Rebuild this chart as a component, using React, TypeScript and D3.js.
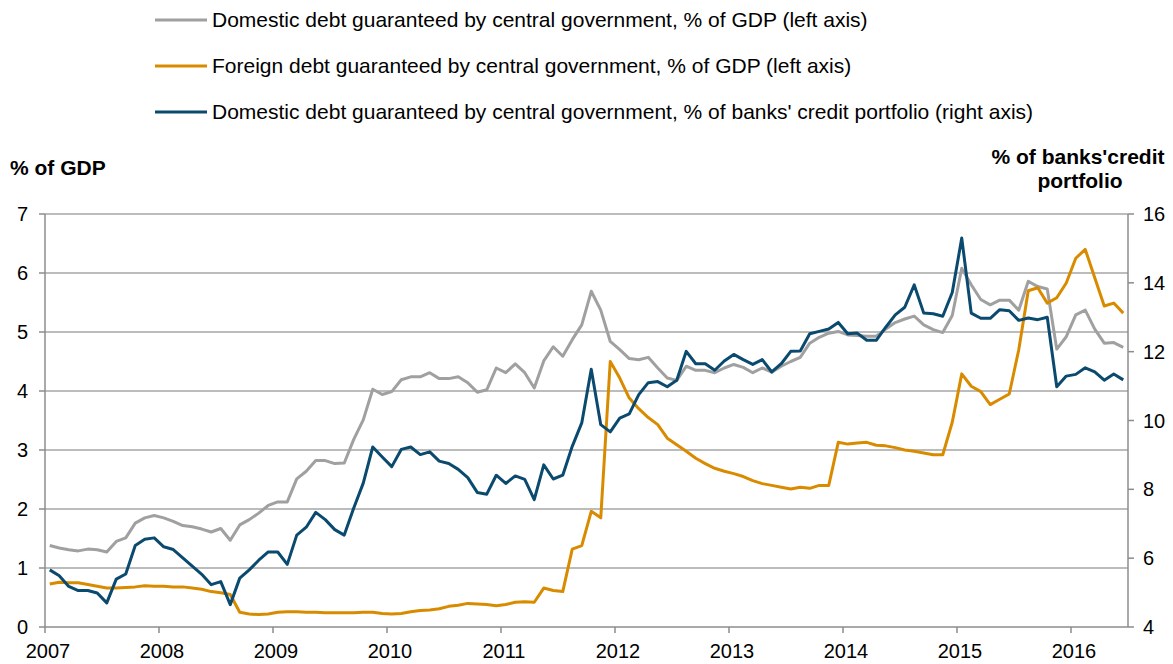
import { useEffect } from 'react'
import * as d3 from 'd3'

// monthly values, Jan 2007 - Jun 2016
const years = ['2007', '2008', '2009', '2010', '2011', '2012', '2013', '2014', '2015', '2016']
const leftTicks = [0, 1, 2, 3, 4, 5, 6, 7]
const rightTicks = [4, 6, 8, 10, 12, 14, 16]

const domesticGdp = [
  1.38, 1.34, 1.31, 1.29, 1.32, 1.31, 1.27, 1.45, 1.51, 1.76, 1.85, 1.89,
  1.85, 1.79, 1.72, 1.70, 1.66, 1.61, 1.67, 1.47, 1.73, 1.82, 1.93, 2.06,
  2.12, 2.12, 2.51, 2.64, 2.82, 2.82, 2.77, 2.78, 3.18, 3.51, 4.03, 3.94,
  3.99, 4.19, 4.24, 4.24, 4.31, 4.21, 4.21, 4.24, 4.14, 3.98, 4.02, 4.39,
  4.31, 4.46, 4.31, 4.05, 4.51, 4.75, 4.59, 4.87, 5.12, 5.69, 5.37, 4.84,
  4.70, 4.55, 4.53, 4.57, 4.39, 4.22, 4.18, 4.42, 4.35, 4.35, 4.31, 4.39,
  4.45, 4.40, 4.31, 4.39, 4.32, 4.42, 4.50, 4.57, 4.81, 4.91, 4.98, 5.01,
  4.95, 4.94, 4.93, 4.93, 5.05, 5.16, 5.22, 5.27, 5.12, 5.04, 4.99, 5.28,
  6.08, 5.80, 5.55, 5.46, 5.54, 5.54, 5.37, 5.86, 5.77, 5.73, 4.71, 4.92,
  5.29, 5.37, 5.05, 4.81, 4.82, 4.74
]

const foreignGdp = [
  0.73, 0.76, 0.75, 0.75, 0.72, 0.69, 0.66, 0.66, 0.67, 0.68, 0.70, 0.69,
  0.69, 0.68, 0.68, 0.66, 0.64, 0.60, 0.58, 0.55, 0.25, 0.22, 0.21, 0.22,
  0.25, 0.26, 0.26, 0.25, 0.25, 0.24, 0.24, 0.24, 0.24, 0.25, 0.25, 0.23,
  0.22, 0.23, 0.26, 0.28, 0.29, 0.31, 0.35, 0.37, 0.40, 0.39, 0.38, 0.36,
  0.38, 0.42, 0.43, 0.42, 0.66, 0.62, 0.60, 1.32, 1.38, 1.96, 1.85, 4.50,
  4.22, 3.88, 3.70, 3.55, 3.43, 3.20, 3.09, 2.98, 2.86, 2.77, 2.69, 2.64,
  2.60, 2.55, 2.48, 2.43, 2.40, 2.37, 2.34, 2.37, 2.35, 2.40, 2.40, 3.13,
  3.10, 3.12, 3.13, 3.08, 3.07, 3.04, 3.00, 2.98, 2.95, 2.92, 2.92, 3.47,
  4.29, 4.08, 3.99, 3.77, 3.86, 3.95, 4.70, 5.70, 5.75, 5.49, 5.58, 5.83,
  6.25, 6.40, 5.92, 5.44, 5.49, 5.32
]

const bankShare = [
  5.66, 5.49, 5.18, 5.06, 5.06, 4.99, 4.70, 5.39, 5.54, 6.37, 6.55, 6.59,
  6.33, 6.25, 6.01, 5.77, 5.53, 5.23, 5.32, 4.65, 5.42, 5.66, 5.94, 6.18,
  6.18, 5.82, 6.67, 6.90, 7.33, 7.12, 6.83, 6.67, 7.46, 8.18, 9.23, 8.94,
  8.66, 9.16, 9.23, 9.01, 9.09, 8.82, 8.75, 8.58, 8.34, 7.91, 7.86, 8.41,
  8.17, 8.39, 8.29, 7.70, 8.71, 8.30, 8.41, 9.25, 9.93, 11.49, 9.88, 9.67,
  10.07, 10.19, 10.75, 11.10, 11.13, 10.98, 11.17, 12.01, 11.65, 11.65, 11.46, 11.73,
  11.92, 11.77, 11.63, 11.77, 11.41, 11.65, 12.01, 12.02, 12.52, 12.59, 12.66, 12.85,
  12.52, 12.54, 12.33, 12.33, 12.71, 13.07, 13.29, 13.94, 13.12, 13.10, 13.03, 13.72,
  15.30, 13.12, 12.97, 12.97, 13.22, 13.19, 12.91, 12.98, 12.93, 13.00, 10.98, 11.29,
  11.34, 11.53, 11.41, 11.17, 11.35, 11.18
]

const legendItems = [
  { label: 'Domestic debt guaranteed by central government, % of GDP (left axis)', color: '#a0a0a0' },
  { label: 'Foreign debt guaranteed by central government, % of GDP (left axis)', color: '#d98b00' },
  { label: "Domestic debt guaranteed by central government, % of banks' credit portfolio (right axis)", color: '#0b4a6f' }
]

const font = '"Liberation Sans", Arial, sans-serif'
const axisColor = '#8c8c8c'

export default function App() {
  useEffect(() => {
    document.body.style.margin = '0'
  }, [])

  const width = 1173
  const height = 664
  const left = 45
  const right = 1128
  const top = 214
  const bottom = 627

  const x = d3.scaleLinear().domain([0, 114]).range([left, right])
  const yL = d3.scaleLinear().domain([0, 7]).range([bottom, top])
  const yR = d3.scaleLinear().domain([4, 16]).range([bottom, top])

  const lineL = d3.line<number>().x((_, i) => x(i + 0.5)).y(d => yL(d))
  const lineR = d3.line<number>().x((_, i) => x(i + 0.5)).y(d => yR(d))

  return (
    <svg width={width} height={height} style={{ display: 'block', fontFamily: font }}>
      <rect width={width} height={height} fill="#fff" />

      {legendItems.map((item, i) => (
        <g key={item.label} transform={`translate(0,${20 + i * 46})`}>
          <line x1={155} x2={207} y1={0} y2={0} stroke={item.color} strokeWidth={3} />
          <text x={212} y={0} dy="0.35em" fontSize={21} fill="#000">{item.label}</text>
        </g>
      ))}

      <text x={10} y={168} dy="0.35em" fontSize={21} fontWeight="bold">% of GDP</text>
      <text x={1078} y={157} dy="0.35em" fontSize={21} fontWeight="bold" textAnchor="middle">% of banks'credit</text>
      <text x={1080} y={181} dy="0.35em" fontSize={21} fontWeight="bold" textAnchor="middle">portfolio</text>

      {leftTicks.filter(t => t > 0).map(t => (
        <line key={'g' + t} x1={left} x2={right} y1={yL(t)} y2={yL(t)} stroke="#a6a6a6" strokeWidth={1.5} />
      ))}

      <line x1={left} x2={right} y1={bottom} y2={bottom} stroke={axisColor} strokeWidth={1.5} />
      <line x1={left} x2={left} y1={top} y2={bottom} stroke={axisColor} strokeWidth={1.5} />
      <line x1={right} x2={right} y1={top} y2={bottom} stroke={axisColor} strokeWidth={1.5} />

      {leftTicks.map(t => (
        <g key={'l' + t}>
          <line x1={left - 6} x2={left} y1={yL(t)} y2={yL(t)} stroke={axisColor} strokeWidth={1.5} />
          <text x={28} y={yL(t)} dy="0.35em" fontSize={20} textAnchor="end">{t}</text>
        </g>
      ))}

      {rightTicks.map(t => (
        <g key={'r' + t}>
          <line x1={right} x2={right + 6} y1={yR(t)} y2={yR(t)} stroke={axisColor} strokeWidth={1.5} />
          <text x={1143} y={yR(t)} dy="0.35em" fontSize={20}>{t}</text>
        </g>
      ))}

      {years.map((yr, i) => (
        <g key={yr}>
          <line x1={x(i * 12)} x2={x(i * 12)} y1={bottom} y2={bottom + 6} stroke={axisColor} strokeWidth={1.5} />
          <text x={x(i * 12) + 3} y={651} dy="0.35em" fontSize={20} textAnchor="middle">{yr}</text>
        </g>
      ))}

      <path d={lineL(domesticGdp) ?? ''} fill="none" stroke={legendItems[0].color} strokeWidth={3} strokeLinejoin="round" />
      <path d={lineL(foreignGdp) ?? ''} fill="none" stroke={legendItems[1].color} strokeWidth={3} strokeLinejoin="round" />
      <path d={lineR(bankShare) ?? ''} fill="none" stroke={legendItems[2].color} strokeWidth={3} strokeLinejoin="round" />
    </svg>
  )
}
